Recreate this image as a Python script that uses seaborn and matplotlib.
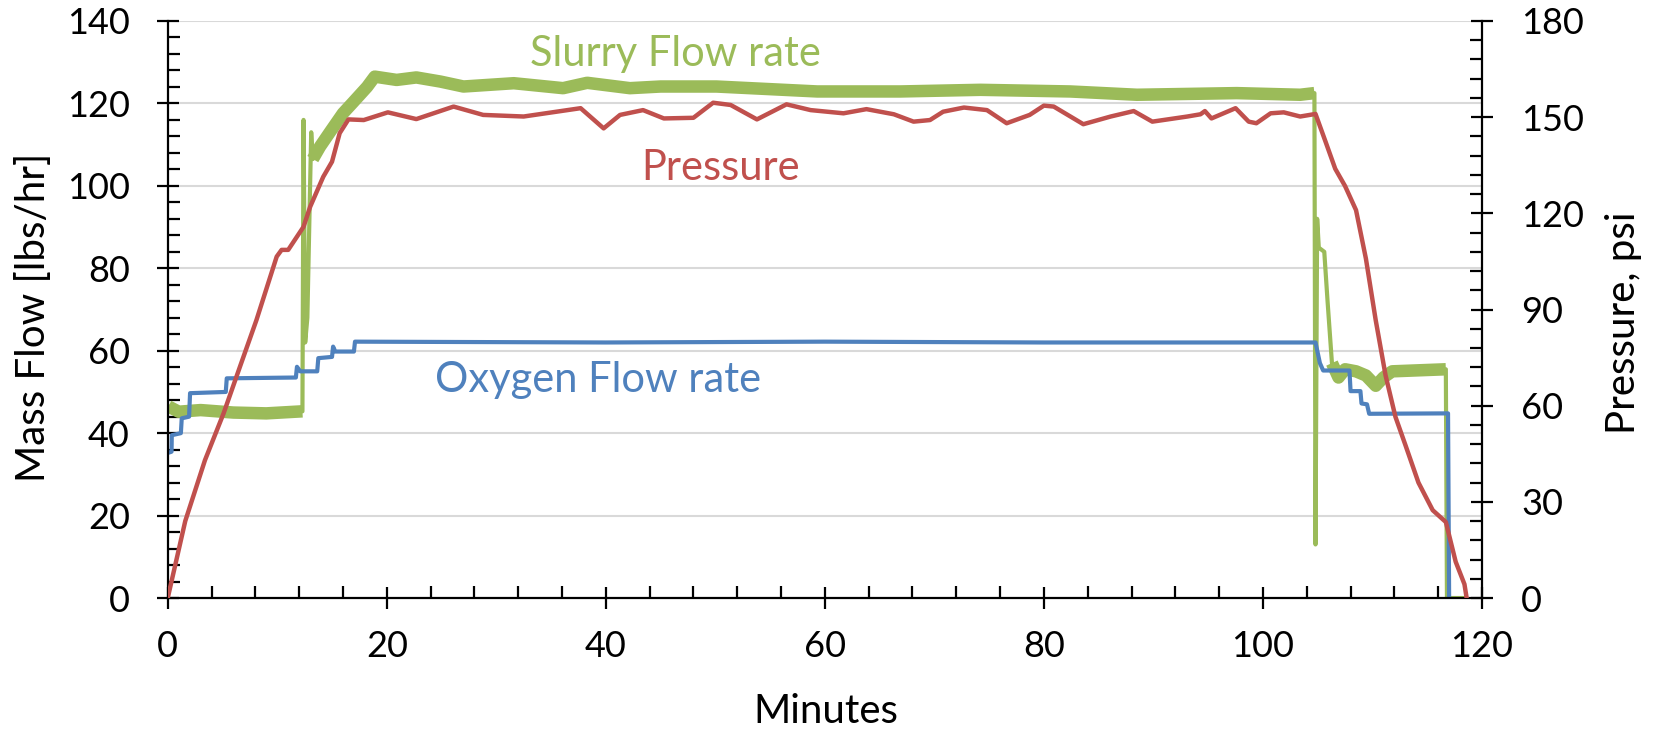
import matplotlib
matplotlib.use("Agg")
import matplotlib.pyplot as plt
from matplotlib.ticker import MultipleLocator
import seaborn as sns
import pandas as pd

# ---------------- data ----------------
oxy_t = [0, 0.35, 0.37, 1.2, 1.28, 1.95, 2.04, 5.3, 5.39, 11.7, 11.8, 12.1, 13.65, 13.75,
         15.0, 15.1, 15.3, 17.0, 17.1, 40.0, 60.0, 80.0, 104.8, 105.2, 105.5, 107.9, 108.0,
         108.9, 109.0, 109.5, 109.7, 116.9, 117.0]
oxy_v = [35.2, 35.5, 39.5, 40.0, 43.6, 44.0, 49.7, 50.0, 53.3, 53.5, 56.1, 55.0, 55.0, 58.2,
         58.5, 61.0, 59.8, 59.8, 62.2, 62.0, 62.2, 62.0, 62.0, 57.0, 55.2, 55.2, 50.2,
         50.2, 47.2, 47.0, 44.7, 44.8, 0.0]

slurry_t = [0.06, 1.0, 3.0, 6.0, 9.0, 12.3, 12.4, 12.55, 12.75, 13.1, 13.25, 13.9, 14.8, 16.0,
            16.9, 18.2, 18.9, 20.9, 22.7, 24.9, 27.0, 31.6, 36.1, 38.3, 42.2, 45.0, 50.1,
            59.3, 66.9, 74.2, 82.4, 88.5, 97.6, 103.4, 104.7, 104.8, 104.95, 105.1, 105.6,
            105.9, 106.3, 106.9, 107.5, 108.5, 109.4, 110.3, 111.0, 111.8, 116.7, 116.8, 118.5]
slurry_v = [46.5, 45.2, 45.6, 45.0, 44.8, 45.3, 116.0, 62.0, 68.0, 113.0, 106.5, 109.5, 113.0,
            117.6, 120.2, 124.0, 126.5, 125.7, 126.3, 125.3, 124.1, 124.9, 123.7, 125.0, 123.7,
            124.1, 124.1, 122.9, 122.9, 123.3, 122.9, 122.1, 122.5, 122.1, 122.5, 13.0, 92.0,
            85.0, 84.0, 72.0, 57.0, 53.5, 55.5, 55.0, 54.0, 51.5, 53.5, 55.0, 55.5, 0.0, 0.0]

press_t = [0, 0.8, 1.6, 3.4, 5.1, 6.6, 8.1, 9.95, 10.4, 11.0, 12.4, 13.0, 14.2, 15.0, 15.7,
           16.5, 17.9, 20.1, 22.7, 26.1, 28.8, 32.5, 37.7, 39.8, 41.3, 43.4, 45.3, 48.0, 49.8,
           51.4, 53.8, 56.5, 58.7, 61.7, 63.8, 66.3, 68.1, 69.6, 70.8, 72.7, 74.8, 76.6, 78.7,
           80.0, 80.9, 83.6, 86.1, 88.2, 89.9, 93.1, 94.3, 94.7, 95.3, 97.5, 98.7, 99.4, 100.7,
           101.9, 103.4, 104.8, 105.7, 106.6, 107.5, 108.5, 109.4, 110.3, 111.2, 112.1, 113.0,
           114.2, 115.5, 116.7, 117.6, 118.4, 118.6]
press_v = [0, 12, 24, 43, 57.6, 72.2, 86.7, 106.5, 108.6, 108.6, 115.8, 122, 131.4, 136.1, 145,
           149.3, 149.1, 151.5, 149.4, 153.3, 150.7, 150.2, 152.8, 146.5, 150.7, 152.2, 149.6,
           149.8, 154.5, 153.8, 149.3, 154, 152.2, 151.2, 152.5, 150.9, 148.6, 149.1, 151.7, 153,
           152.2, 148.1, 150.7, 153.6, 153.3, 147.8, 150.2, 151.9, 148.6, 150.2, 150.9, 151.9,
           149.6, 152.8, 148.6, 148.1, 151.2, 151.5, 150.2, 151, 142.5, 133.9, 128.5, 121, 105.9,
           86.6, 69.4, 56.5, 47.8, 36, 27.4, 23.7, 11.3, 4.3, 0]

x_ticks = [0, 20, 40, 60, 80, 100, 120]
left_ticks = [0, 20, 40, 60, 80, 100, 120, 140]
right_ticks = [0, 30, 60, 90, 120, 150, 180]

# ---------------- style ----------------
sns.set_theme(style="white")
plt.rcParams['font.family'] = ['Lato', 'DejaVu Sans']
plt.rcParams['text.color'] = 'black'
plt.rcParams['axes.labelcolor'] = 'black'
plt.rcParams['xtick.color'] = 'black'
plt.rcParams['ytick.color'] = 'black'

GREEN = "#9BBB59"
RED = "#C0504D"
BLUE = "#4F81BD"
GRID = "#D9D9D9"

fig = plt.figure(figsize=(16.59, 7.31), dpi=100)
ax = fig.add_axes([0.1011, 0.1819, 0.7922, 0.7894])
ax2 = ax.twinx()

oxy = pd.DataFrame({"t": oxy_t, "v": oxy_v})
slu = pd.DataFrame({"t": slurry_t, "v": slurry_v})
pre = pd.DataFrame({"t": press_t, "v": press_v})

for yv in left_ticks[1:]:
    ax.axhline(yv, color=GRID, lw=1.5, zorder=0)

# slurry: thin line for full series, thick band for the noisy steady segments
sns.lineplot(data=slu, x="t", y="v", ax=ax, color=GREEN, lw=3.0, estimator=None, sort=False)
for seg in [(0, 12.3), (13.25, 104.7), (106.3, 116.7)]:
    s = slu[(slu.t >= seg[0]) & (slu.t <= seg[1])]
    sns.lineplot(data=s, x="t", y="v", ax=ax, color=GREEN, lw=9, estimator=None, sort=False,
                 solid_capstyle="butt")
sns.lineplot(data=oxy, x="t", y="v", ax=ax, color=BLUE, lw=3.0, estimator=None, sort=False)
sns.lineplot(data=pre, x="t", y="v", ax=ax2, color=RED, lw=3.2, estimator=None, sort=False)

ax.set_xlim(0, 120)
ax.set_ylim(0, 140)
ax2.set_ylim(0, 180)
ax.set_xticks(x_ticks)
ax.set_yticks(left_ticks)
ax2.set_yticks(right_ticks)
ax.xaxis.set_minor_locator(MultipleLocator(4))
ax.yaxis.set_minor_locator(MultipleLocator(4))
ax2.yaxis.set_minor_locator(MultipleLocator(6))

for a in (ax, ax2):
    for sp in a.spines.values():
        sp.set_visible(False)
    a.grid(False)
    a.set_facecolor("none")
ax.spines['left'].set_visible(True)
ax.spines['bottom'].set_visible(True)
ax2.spines['right'].set_visible(True)
for sp in (ax.spines['left'], ax.spines['bottom'], ax2.spines['right']):
    sp.set_color("black")
    sp.set_linewidth(1.6)

ax.tick_params(axis='both', which='major', direction='inout', length=16.5, width=1.6,
               labelsize=26, color='black', labelcolor='black')
ax.tick_params(axis='x', which='major', pad=15, bottom=True)
ax.tick_params(axis='y', which='major', pad=19, left=True)
ax.tick_params(axis='both', which='minor', direction='in', length=8.5, width=1.6, color='black',
               left=True, bottom=True)
ax2.tick_params(axis='y', which='major', direction='inout', length=16.5, width=1.6,
                labelsize=26, pad=20, right=True, color='black', labelcolor='black')
ax2.tick_params(axis='y', which='minor', direction='in', length=8.5, width=1.6, right=True,
                color='black')

ax.set_xlabel("Minutes", fontsize=29, color='black')
ax.set_ylabel("Mass Flow [lbs/hr]", fontsize=29, color='black')
ax2.set_ylabel("Pressure, psi", fontsize=29, rotation=90, color='black')
ax.xaxis.label.set_va('center')
ax.yaxis.label.set_va('center')
ax2.yaxis.label.set_va('center')
ax.xaxis.set_label_coords(0.5007, -0.197)
ax.yaxis.set_label_coords(-0.1023, 0.487)
ax2.yaxis.set_label_coords(1.1073, 0.477)

ax.text(46.4, 132.0, "Slurry Flow rate", color=GREEN, fontsize=30, ha='center', va='center')
ax.text(50.5, 104.4, "Pressure", color=RED, fontsize=30, ha='center', va='center')
ax.text(39.3, 53.0, "Oxygen Flow rate", color=BLUE, fontsize=30, ha='center', va='center')

fig.savefig("out.png", dpi=100)
